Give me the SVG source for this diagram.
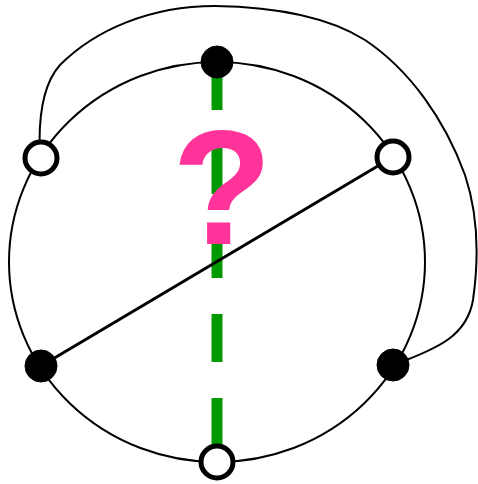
<svg xmlns="http://www.w3.org/2000/svg" width="478" height="484" viewBox="0 0 478 484">
<style>
.edge{fill:none;stroke:#000;stroke-width:2}
.chord{fill:none;stroke:#000;stroke-width:3}
.dash{fill:none;stroke:#009900;stroke-width:11;stroke-dasharray:48 36}
.filled{fill:#000;stroke:#000;stroke-width:1}
.hollow{fill:#fff;stroke:#000;stroke-width:5}
.q{font-family:"Liberation Sans",Arial,sans-serif;font-weight:bold;font-size:164px;fill:#ff3399;text-anchor:middle}
</style>
<rect width="478" height="484" fill="#fff"/>
<g id="connectors">
<ellipse class="edge" cx="217" cy="262" rx="208" ry="200"/>
<path class="dash" d="M217,62 L217,462"/>
<path class="edge" d="M40,158 C38,120 42,85 60,65 C95,30 150,6 215,6 C280,7 330,18 365,40 C410,70 445,120 465,175 C480,220 478,265 473,300 C467,335 440,348 393,365"/>
<path class="chord" d="M41,366 L393,157"/>
</g>
<g id="label"><text class="q" x="222" y="244">?</text></g>
<g id="n_top"><circle class="filled" cx="217" cy="62" r="16"/></g>
<g id="n_bottom"><circle class="hollow" cx="217" cy="462" r="16"/></g>
<g id="n_left_upper"><circle class="hollow" cx="41" cy="158" r="16"/></g>
<g id="n_right_upper"><circle class="hollow" cx="393" cy="157" r="16"/></g>
<g id="n_left_lower"><circle class="filled" cx="41" cy="366" r="16"/></g>
<g id="n_right_lower"><circle class="filled" cx="393" cy="365" r="16"/></g>
</svg>
